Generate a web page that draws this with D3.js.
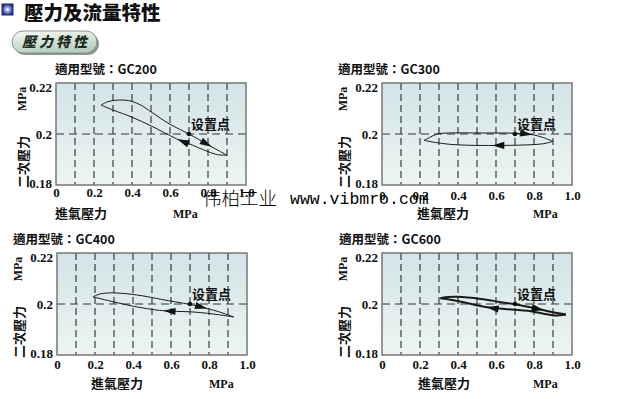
<!DOCTYPE html>
<html>
<head>
<meta charset="utf-8">
<script src="https://cdn.jsdelivr.net/npm/d3@7"></script>
<style>
body { margin: 0; background: #fff; }
svg { display: block; }
</style>
</head>
<body>
<svg id="chart" width="634" height="399"></svg>
<script>
// tick labels and grid
var xTicks = [0, 0.2, 0.4, 0.6, 0.8, 1.0];
var yTicks = [0.18, 0.2, 0.22];
var gridX = [0.1, 0.2, 0.3, 0.4, 0.5, 0.6, 0.7, 0.8, 0.9];
var models = ["GC200", "GC300", "GC400", "GC600"];
var setPoint = [0.7, 0.2];

// [inlet pressure, outlet pressure]
var gc200Rise = [[0.237,0.2113],[0.27,0.2126],[0.31,0.2132],[0.36,0.2133],[0.40,0.2128],[0.45,0.2112],[0.5,0.2087],[0.6,0.2038],[0.7,0.2],[0.8,0.1958],[0.86,0.1933],[0.9,0.1917]];
var gc200Fall = [[0.9,0.1917],[0.85,0.1919],[0.8,0.1931],[0.7,0.1962],[0.635,0.1981],[0.5,0.2032],[0.4,0.2066],[0.3,0.2094],[0.237,0.2113]];
var gc300Rise = [[0.222,0.1975],[0.25,0.1986],[0.29,0.2],[0.35,0.2004],[0.5,0.2004],[0.6,0.2004],[0.7,0.2003],[0.8,0.1996],[0.86,0.1983],[0.9,0.1971]];
var gc300Fall = [[0.9,0.1971],[0.85,0.1962],[0.75,0.1957],[0.6,0.1955],[0.45,0.1956],[0.35,0.196],[0.28,0.1967],[0.222,0.1975]];
var gc400Rise = [[0.19,0.2028],[0.22,0.2038],[0.26,0.2043],[0.34,0.2042],[0.45,0.2032],[0.55,0.2018],[0.7,0.1998],[0.77,0.1986],[0.85,0.197],[0.93,0.1949]];
var gc400Fall = [[0.93,0.1949],[0.85,0.1958],[0.73,0.1968],[0.6,0.1972],[0.54,0.1975],[0.41,0.199],[0.3,0.2008],[0.19,0.2028]];
var gc600Rise = [[0.307,0.2023],[0.35,0.2027],[0.395,0.2028],[0.52,0.202],[0.62,0.2008],[0.713,0.1997],[0.818,0.1981],[0.9,0.1968],[0.968,0.1959]];
var gc600Fall = [[0.968,0.1959],[0.906,0.1955],[0.85,0.1962],[0.783,0.1972],[0.554,0.1987],[0.43,0.2007],[0.36,0.2017],[0.307,0.2023]];

// where the direction arrows sit: [on rise curve, on fall curve]
var gc200Arrows = [0.82, 0.64];
var gc300Arrows = [0.79, 0.58];
var gc400Arrows = [0.79, 0.56];
var gc600Arrows = [0.85, 0.55];

var W = 190, H = 102;
var CJK = "'Noto Sans CJK TC', 'Noto Sans CJK SC', sans-serif";
var SERIF = "'Liberation Serif', 'DejaVu Serif', serif";

var panels = [
    {model: models[0], rise: gc200Rise, fall: gc200Fall, arrows: gc200Arrows, left: 56, top: 83, titleDx: -1, yTitleDx: -34, xTitleDx: -1, unitDx: 117, tickPad: 3, lw: 1},
    {model: models[1], rise: gc300Rise, fall: gc300Fall, arrows: gc300Arrows, left: 382, top: 83, titleDx: -44, yTitleDx: -39, xTitleDx: 35, unitDx: 151, tickPad: 6, lw: 1},
    {model: models[2], rise: gc400Rise, fall: gc400Fall, arrows: gc400Arrows, left: 57, top: 253, titleDx: -44, yTitleDx: -39, xTitleDx: 34, unitDx: 152, tickPad: 5, lw: 1},
    {model: models[3], rise: gc600Rise, fall: gc600Fall, arrows: gc600Arrows, left: 382, top: 253, titleDx: -43, yTitleDx: -39, xTitleDx: 36, unitDx: 151, tickPad: 5, lw: 2}
];

var svg = d3.select("#chart");
var defs = svg.append("defs");

var bg = defs.append("linearGradient").attr("id", "plotBg")
    .attr("x1", 0).attr("y1", 0).attr("x2", 0).attr("y2", 1);
bg.append("stop").attr("offset", "0%").attr("stop-color", "#d3e3e7");
bg.append("stop").attr("offset", "100%").attr("stop-color", "#edf5f2");

var pill = defs.append("linearGradient").attr("id", "pillBg")
    .attr("x1", 0).attr("y1", 0).attr("x2", 0.3).attr("y2", 1);
pill.append("stop").attr("offset", "0%").attr("stop-color", "#f6faf4");
pill.append("stop").attr("offset", "100%").attr("stop-color", "#b9cdbf");

var icon = defs.append("radialGradient").attr("id", "iconBg");
icon.append("stop").attr("offset", "0%").attr("stop-color", "#dfe4ff");
icon.append("stop").attr("offset", "55%").attr("stop-color", "#7d8bd6");
icon.append("stop").attr("offset", "100%").attr("stop-color", "#24327e");

// header
svg.append("rect").attr("x", 2).attr("y", 4).attr("width", 11).attr("height", 11)
    .attr("fill", "url(#iconBg)").attr("stroke", "#1c2870").attr("stroke-width", 1);
svg.append("rect").attr("x", 6.5).attr("y", 8.5).attr("width", 2).attr("height", 2).attr("fill", "#fff");
svg.append("text").attr("x", 24).attr("y", 20)
    .style("font-family", CJK).style("font-weight", 900).style("font-size", "19.5px")
    .attr("fill", "#111").text("壓力及流量特性");

svg.append("rect").attr("x", 14).attr("y", 33).attr("width", 85).attr("height", 22).attr("rx", 11)
    .attr("fill", "#8d9c92");
svg.append("rect").attr("x", 12).attr("y", 31).attr("width", 85).attr("height", 22).attr("rx", 11)
    .attr("fill", "url(#pillBg)").attr("stroke", "#6e8174").attr("stroke-width", 0.8);
svg.append("text").attr("x", 22).attr("y", 47)
    .style("font-family", CJK).style("font-weight", 900).style("font-size", "14px")
    .style("font-style", "italic").style("letter-spacing", "3px")
    .attr("fill", "#1b2a20").text("壓力特性");

var line = d3.line().curve(d3.curveCatmullRom.alpha(0.5));

function addArrow(g, node, targetX) {
    var len = node.getTotalLength(), best = 0, bestD = Infinity;
    for (var s = 0; s <= len; s += 0.5) {
        var p0 = node.getPointAtLength(s);
        var d = Math.abs(p0.x - targetX);
        if (d < bestD) { bestD = d; best = s; }
    }
    var p = node.getPointAtLength(best);
    var q = node.getPointAtLength(Math.max(0, best - 2));
    var a = Math.atan2(p.y - q.y, p.x - q.x);
    var ux = Math.cos(a), uy = Math.sin(a);
    var bx = p.x - 12 * ux, by = p.y - 12 * uy;
    var pts = [[p.x, p.y], [bx - 3.6 * uy, by + 3.6 * ux], [bx + 3.6 * uy, by - 3.6 * ux]];
    g.append("path").attr("d", "M" + pts.join("L") + "Z").attr("fill", "#111");
}

panels.forEach(function(pn) {
    var x = d3.scaleLinear().domain([0, 1]).range([0, W]);
    var y = d3.scaleLinear().domain([0.18, 0.22]).range([H, 0]);
    var g = svg.append("g").attr("transform", "translate(" + pn.left + "," + pn.top + ")");

    g.append("rect").attr("width", W).attr("height", H).attr("fill", "url(#plotBg)");

    g.selectAll("line.grid").data(gridX).enter().append("line")
        .attr("class", "grid")
        .attr("x1", function(d) { return x(d); }).attr("x2", function(d) { return x(d); })
        .attr("y1", 0).attr("y2", H)
        .attr("stroke", "#2a2a2a").attr("stroke-width", 1.1).attr("stroke-dasharray", "7,4");

    g.append("line").attr("x1", 0).attr("x2", W)
        .attr("y1", y(setPoint[1])).attr("y2", y(setPoint[1]))
        .attr("stroke", "#333").attr("stroke-width", 1).attr("stroke-dasharray", "8,5");

    var curves = [pn.rise, pn.fall].map(function(data) {
        return g.append("path")
            .attr("d", line(data.map(function(d) { return [x(d[0]), y(d[1])]; })))
            .attr("fill", "none").attr("stroke", "#1a1a1a").attr("stroke-width", pn.lw)
            .attr("stroke-linejoin", "round").node();
    });
    addArrow(g, curves[0], x(pn.arrows[0]));
    addArrow(g, curves[1], x(pn.arrows[1]));

    g.append("circle").attr("cx", x(setPoint[0])).attr("cy", y(setPoint[1])).attr("r", 2.2).attr("fill", "#111");
    g.append("text").attr("x", x(setPoint[0]) + 2).attr("y", y(setPoint[1]) - 5)
        .style("font-family", "'Noto Sans CJK SC', sans-serif").style("font-weight", 700).style("font-size", "13px")
        .attr("fill", "#111").text("设置点");

    g.append("rect").attr("width", W).attr("height", H).attr("fill", "none")
        .attr("stroke", "#777").attr("stroke-width", 1.5);

    // axes
    var xAxis = g.append("g").attr("transform", "translate(0," + H + ")")
        .call(d3.axisBottom(x).tickValues(xTicks).tickSize(0).tickPadding(pn.tickPad)
            .tickFormat(function(d) { return d === 0 ? "0" : d.toFixed(1); }));
    var yAxis = g.append("g")
        .call(d3.axisLeft(y).tickValues(yTicks).tickSize(0).tickPadding(4)
            .tickFormat(function(d) { return d === 0.2 ? "0.2" : d.toFixed(2); }));
    [xAxis, yAxis].forEach(function(ax) {
        ax.select(".domain").remove();
        ax.selectAll("text").style("font-family", SERIF).style("font-weight", 700)
            .style("font-size", "13px").attr("fill", "#111");
    });
    yAxis.selectAll(".tick text").attr("dy", function(d) {
        return d === 0.22 ? "0.62em" : d === 0.18 ? "0.2em" : "0.32em";
    });

    // titles
    g.append("text").attr("x", pn.titleDx).attr("y", -9)
        .style("font-family", CJK).style("font-weight", 700).style("font-size", "12.5px")
        .attr("fill", "#111").text("適用型號：" + pn.model);

    g.append("text").attr("transform", "translate(" + pn.yTitleDx + ",16) rotate(-90)")
        .attr("text-anchor", "middle").attr("dominant-baseline", "central")
        .style("font-family", SERIF).style("font-weight", 700).style("font-size", "12px")
        .attr("fill", "#111").text("MPa");
    g.append("text").attr("transform", "translate(" + pn.yTitleDx + ",79) rotate(-90)")
        .attr("text-anchor", "middle").attr("dominant-baseline", "central")
        .style("font-family", CJK).style("font-weight", 700).style("font-size", "13px")
        .attr("fill", "#111").text("二次壓力");

    g.append("text").attr("x", pn.xTitleDx).attr("y", H + 33)
        .style("font-family", CJK).style("font-weight", 700).style("font-size", "13px")
        .attr("fill", "#111").text("進氣壓力");
    g.append("text").attr("x", pn.unitDx).attr("y", H + 33)
        .style("font-family", SERIF).style("font-weight", 700).style("font-size", "12px")
        .attr("fill", "#111").text("MPa");
});

// watermark over the upper charts
svg.append("text").attr("x", 203).attr("y", 205)
    .style("font-family", "'Noto Sans CJK SC', sans-serif").style("font-weight", 300).style("font-size", "18.5px")
    .attr("fill", "#000").text("伟柏工业");
svg.append("text").attr("x", 290).attr("y", 204)
    .style("font-family", "'Liberation Mono', monospace").style("font-size", "16.5px")
    .attr("fill", "#000").text("www.vibmro.com");
</script>
</body>
</html>
